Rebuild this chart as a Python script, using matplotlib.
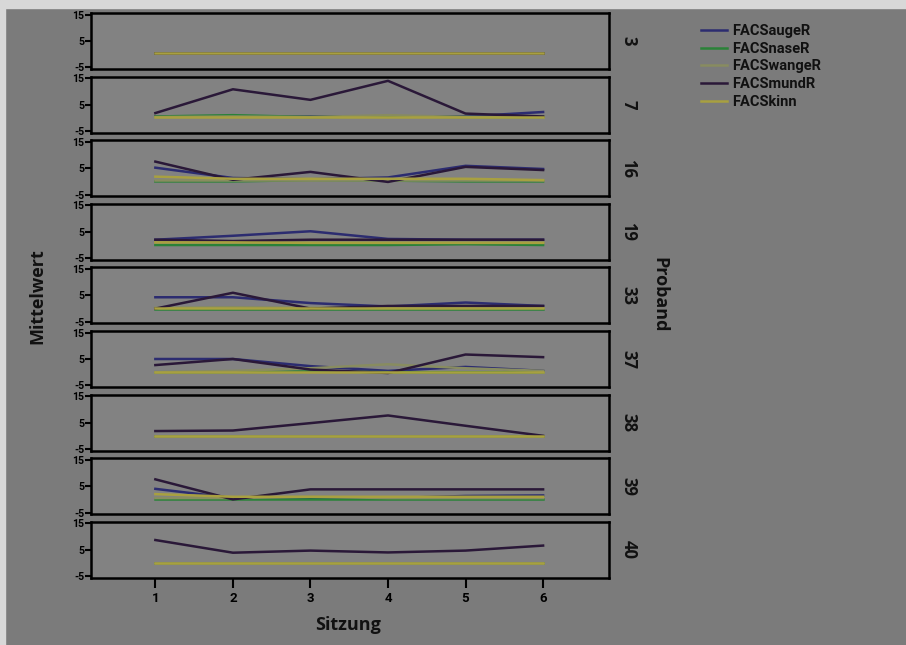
import numpy as np
import matplotlib
matplotlib.use("Agg")
import matplotlib.pyplot as plt
from matplotlib.patches import Rectangle

# Sitzung 1..6, mean FACS values per Proband
sitzung = [1, 2, 3, 4, 5, 6]
probanden = ["3", "7", "16", "19", "33", "37", "38", "39", "40"]
serien = ["FACSaugeR", "FACSnaseR", "FACSwangeR", "FACSmundR", "FACSkinn"]
farben = ["#2c2c70", "#2a8238", "#888c60", "#2a1838", "#a8a040"]

auge = [
    [0.3, 0.3, 0.3, 0.3, 0.3, 0.3],
    [0.5, 0.5, 0.5, 0.5, 0.5, 2.2],
    [5.2, 1.3, 0.8, 1.5, 5.9, 4.7],
    [2.0, 3.5, 5.2, 2.3, 2.0, 2.0],
    [4.3, 4.3, 2.1, 0.8, 2.3, 1.0],
    [5.0, 5.0, 2.3, 0.5, 2.0, 0.5],
    [0.0, 0.0, 0.0, 0.0, 0.0, 0.0],
    [4.0, 0.5, 0.5, 0.5, 1.3, 1.5],
    [0.0, 0.0, 0.0, 0.0, 0.0, 0.0],
]
nase = [
    [0.3, 0.3, 0.3, 0.3, 0.3, 0.3],
    [0.5, 1.0, 0.3, 0.5, 0.3, 0.3],
    [0.0, 0.0, 0.5, 0.3, 0.0, 0.0],
    [0.0, 0.0, 0.0, 0.0, 0.3, 0.0],
    [0.0, 0.0, 0.0, 0.0, 0.0, 0.0],
    [0.0, 0.0, 0.3, 0.0, 0.0, 0.0],
    [0.0, 0.0, 0.0, 0.0, 0.0, 0.0],
    [0.0, 0.0, 0.0, 0.0, 0.0, 0.0],
    [0.0, 0.0, 0.0, 0.0, 0.0, 0.0],
]
wange = [
    [0.3, 0.3, 0.3, 0.3, 0.3, 0.3],
    [0.3, 0.5, 0.3, 1.0, 0.3, 0.3],
    [0.5, 0.5, 0.5, 0.5, 0.5, 0.5],
    [1.0, 1.0, 1.0, 1.0, 1.0, 1.0],
    [0.3, 0.5, 0.3, 0.3, 0.3, 0.3],
    [0.0, 0.5, 1.5, 3.0, 1.5, 0.5],
    [0.0, 0.0, 0.0, 0.0, 0.0, 0.0],
    [0.5, 0.5, 1.0, 0.5, 0.5, 0.5],
    [0.0, 0.0, 0.0, 0.0, 0.0, 0.0],
]
mund = [
    [0.3, 0.3, 0.3, 0.3, 0.3, 0.3],
    [1.8, 10.8, 6.8, 14.0, 1.6, 0.5],
    [7.5, 0.6, 3.6, -0.2, 5.5, 4.3],
    [2.0, 1.5, 2.0, 2.0, 2.0, 2.0],
    [0.0, 6.0, 0.0, 1.0, 1.0, 1.0],
    [2.7, 5.0, 1.0, -0.3, 6.7, 5.7],
    [1.8, 2.0, 4.8, 7.7, 3.8, 0.0],
    [7.6, 0.0, 3.8, 3.8, 3.8, 3.8],
    [8.7, 3.9, 4.7, 4.0, 4.7, 6.6],
]
kinn = [
    [0.3, 0.3, 0.3, 0.3, 0.3, 0.3],
    [0.3, 0.3, 0.3, 0.3, 0.3, 0.3],
    [1.8, 1.0, 1.0, 1.0, 1.0, 0.5],
    [1.0, 1.0, 0.8, 0.8, 0.8, 0.8],
    [0.3, 0.3, 0.3, 0.3, 0.3, 0.3],
    [0.0, 0.0, 0.0, 0.0, 0.0, 0.0],
    [0.0, 0.0, 0.0, 0.0, 0.0, 0.0],
    [2.0, 1.0, 1.0, 1.0, 1.0, 1.0],
    [0.0, 0.0, 0.0, 0.0, 0.0, 0.0],
]

fig = plt.figure(figsize=(9.06, 6.45), dpi=100)
fig.patch.set_facecolor("#7b7b7b")
# light border at top and left like the scanned original
fig.patches.append(Rectangle((0, 1 - 8 / 645), 1, 8 / 645, transform=fig.transFigure,
                             color="#d8d8d8", zorder=0))
fig.patches.append(Rectangle((0, 0), 5 / 906, 1, transform=fig.transFigure,
                             color="#d8d8d8", zorder=0))

W, H = 906, 645
left, right = 91, 609
top0, step, ph = 13, 63.6, 56

tickfont = {"family": "Roboto", "weight": "bold", "size": 7.6}
alle = [auge, nase, wange, mund, kinn]
axes = []
for i, p in enumerate(probanden):
    top = top0 + i * step
    ax = fig.add_axes([left / W, 1 - (top + ph) / H, (right - left) / W, ph / H])
    ax.set_facecolor("#828282")
    for s, name in enumerate(serien):
        ax.plot(sitzung, alle[s][i], color=farben[s], lw=1.8, label=name)
    ax.set_xlim(0.17, 6.85)
    ax.set_ylim(-5.6, 15.6)
    ax.set_yticks([-5, 5, 15])
    ax.set_yticklabels(["-5", "5", "15"], fontdict=tickfont)
    for sp in ax.spines.values():
        sp.set_linewidth(1.8)
        sp.set_color("black")
    ax.tick_params(axis="y", length=4, width=1.5, pad=1, colors="black")
    if i < len(probanden) - 1:
        ax.set_xticks([])
    else:
        ax.set_xticks(sitzung)
        ax.set_xticklabels([str(s) for s in sitzung], fontdict={**tickfont, "size": 9.5})
        ax.tick_params(axis="x", length=7, width=1.5, pad=3, colors="black")
    ax.text(1.02, 0.5, p, transform=ax.transAxes, rotation=-90, ha="left", va="center",
            fontsize=12, fontweight="bold", family="Open Sans", color="#111111")
    axes.append(ax)

fig.text(37 / W, 1 - 296 / H, "Mittelwert", rotation=90, ha="center", va="center",
         fontsize=13, fontweight="bold", family="Open Sans", color="#111111")
fig.text(659 / W, 1 - 295 / H, "Proband", rotation=-90, ha="center", va="center",
         fontsize=13, fontweight="bold", family="Open Sans", color="#111111")
fig.text(348 / W, 1 - 625 / H, "Sitzung", ha="center", va="center",
         fontsize=13, fontweight="bold", family="Open Sans", color="#111111")

handles, labels = axes[0].get_legend_handles_labels()
leg = fig.legend(handles, labels, loc="upper left", bbox_to_anchor=(688 / W, 1 - 11 / H),
                 frameon=False, handlelength=1.8, handletextpad=0.3, labelspacing=0.25,
                 prop={"family": "Roboto", "weight": "bold", "size": 10.5})
for t in leg.get_texts():
    t.set_color("#111111")

fig.savefig("out.png", dpi=100, facecolor=fig.get_facecolor())
